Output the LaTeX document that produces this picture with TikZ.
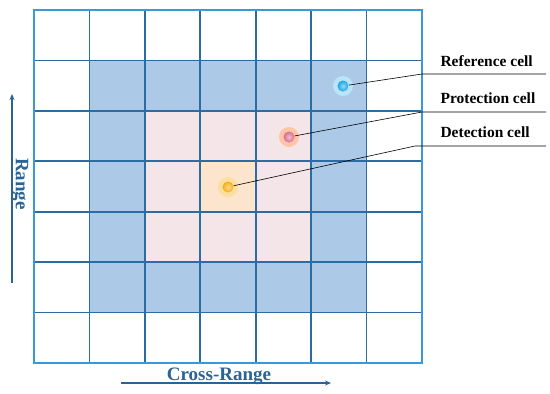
\documentclass[tikz,border=0pt]{standalone}
\usepackage{fontspec}
\setmainfont{Liberation Serif}
\usetikzlibrary{arrows.meta,positioning}
\definecolor{gridblue}{HTML}{2B6CA3}
\definecolor{edgeblue}{HTML}{3A9AD9}
\definecolor{refblue}{HTML}{ADC9E8}
\definecolor{protpink}{HTML}{F3E5E8}
\definecolor{detorange}{HTML}{FDE4CC}
\definecolor{axisblue}{HTML}{2A6496}
\definecolor{refdot}{HTML}{1AA6E6}
\definecolor{protdot}{HTML}{DC6C8E}
\definecolor{detdot}{HTML}{F6AE10}

\begin{document}
\begin{tikzpicture}[x=1pt,y=-1pt]
\tikzset{
  glow/.style={circle,inner sep=0pt,minimum size=20pt,fill=#1},
  dot/.style={circle,inner sep=0pt,minimum size=11pt,inner color=#1!45!white,outer color=#1},
  lbl/.style={anchor=base west,font=\fontsize{15.5}{17}\selectfont\bfseries},
  lead/.style={black,line width=0.6pt},
  axis/.style={axisblue,line width=1.3pt,-{Stealth[length=6pt,width=5pt]}},
  axislbl/.style={text=axisblue,font=\fontsize{19}{21}\selectfont\bfseries,inner sep=0pt}
}
\useasboundingbox (0,0) rectangle (550,394);
% cells
\fill[refblue] (89.4,60.4) rectangle (366.6,312.6);
\fill[protpink] (144.9,110.9) rectangle (311.1,262.2);
\fill[detorange] (200.3,161.3) rectangle (255.7,211.7);
% grid
\foreach \i in {1,...,6}
  \draw[gridblue,line width=1.7pt] (34+\i*55.43,10) -- (34+\i*55.43,363);
\foreach \j in {1,...,6}
  \draw[gridblue,line width=1.7pt] (34,10+\j*50.43) -- (422,10+\j*50.43);
\draw[edgeblue,line width=2pt] (34,10) rectangle (422,363);
% cells marked
\node[glow=refdot!30] (gref) at (343,86) {};
\node[dot=refdot] (ref) at (343,86) {};
\node[glow=red!30!orange!35] (gprot) at (289,137) {};
\node[dot=protdot] (prot) at (289,137) {};
\node[glow=detdot!40] (gdet) at (228,187) {};
\node[dot=detdot] (det) at (228,187) {};
% labels
\node[lbl] (lref) at (437,66) {Reference cell};
\node[lbl] (lprot) at (437,103) {Protection cell};
\node[lbl] (ldet) at (437,137) {Detection cell};
\coordinate (kref) at (422,74);
\coordinate (eref) at (546,74);
\coordinate (kprot) at (422,112);
\coordinate (eprot) at (546,112);
\coordinate (kdet) at (415,146);
\coordinate (edet) at (546,146);
\draw[lead] (ref) -- (kref) -- (eref);
\draw[lead] (prot) -- (kprot) -- (eprot);
\draw[lead] (det) -- (kdet) -- (edet);
% axes
\coordinate (cr0) at (121,383);
\coordinate (cr1) at (331,383);
\draw[axis] (cr0) -- (cr1);
\node[axislbl,anchor=base] (lcr) at (219,380) {Cross-Range};
\coordinate (r0) at (12,283);
\coordinate (r1) at (12,94);
\draw[axis] (r0) -- (r1);
\node[axislbl,rotate=-90,anchor=base] (lr) at (16,184) {Range};
\end{tikzpicture}
\end{document}
